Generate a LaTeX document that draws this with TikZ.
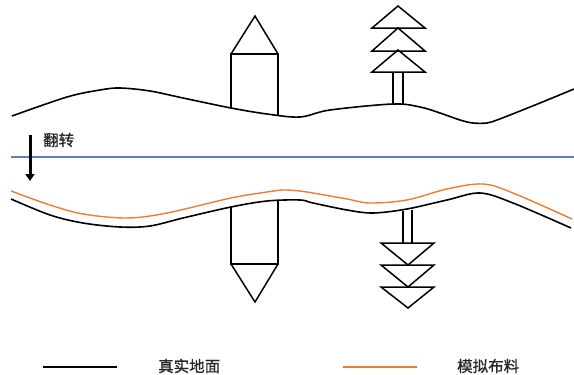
\documentclass[tikz,border=0pt]{standalone}
\usepackage{fontspec}
\newfontfamily\cjk[FakeBold=0.8]{Noto Sans CJK SC}
\usetikzlibrary{arrows.meta}
\definecolor{clothorange}{HTML}{ED7D31}
\definecolor{planeblue}{HTML}{5B7FC2}
\definecolor{labelgray}{HTML}{262626}
\begin{document}
\begin{tikzpicture}[x=1pt,y=-1pt,
  ground/.style={draw=black,line width=1.6pt,line join=round},
  cloth/.style={draw=clothorange,line width=1.4pt,line join=round},
  obj/.style={draw=black,line width=1.5pt,line join=miter},
  lbl/.style={font=\cjk\fontsize{15.5}{15.5}\selectfont,text=labelgray,inner sep=0pt}]
\useasboundingbox (0,0) rectangle (574,375);

% real ground
\draw[ground] plot[smooth,tension=0.55] coordinates {
  (12,116) (67,97) (100,90) (120,88) (150,91) (183,98) (231,108)
  (267,114) (300,117) (330,110) (393,104) (420,107) (440,113)
  (460,120) (473,123) (487,123) (497,120) (510,115) (540,103) (574,89)};

% house standing on the ground
\draw[obj] (231,108) -- (231,54) -- (278,54) -- (278,115);
\draw[obj] (231,54) -- (255,16) -- (278,54);

% tree standing on the ground
\draw[obj] (393,104) -- (393,72);
\draw[obj] (403,104) -- (403,72);
\foreach \t/\b in {6/28, 28/51, 50/72}
  \draw[obj] (398,\t) -- (425,\b) -- (372,\b) -- cycle;

% flip plane
\coordinate (pl) at (11,157);
\coordinate (pr) at (574,157);
\draw[planeblue,line width=1.1pt] (pl) -- (pr);

% flip arrow and its label
\coordinate (at) at (30,135);
\coordinate (ab) at (30,181);
\draw[line width=3pt,-{Triangle[length=7pt,width=9pt]}] (at) -- (ab);
\node[lbl,anchor=west] (flip) at (43,140) {翻转};

% flipped ground
\draw[ground] plot[smooth,tension=0.55] coordinates {
  (11,199) (50,215) (83,223) (120,227) (150,226) (183,218) (231,207)
  (267,201) (300,200) (313,203) (347,210) (373,213) (407,209)
  (447,200) (480,193) (513,203) (571,228)};

% simulated cloth
\draw[cloth] plot[smooth,tension=0.55] coordinates {
  (11,191) (50,205) (83,214) (127,218) (167,213) (231,198)
  (267,192) (283,190) (300,191) (313,193) (347,199) (370,203)
  (407,200) (447,189) (483,184) (513,193) (572,219)};

% flipped house
\draw[obj] (231,207) -- (231,264) -- (278,264) -- (278,200);
\draw[obj] (231,264) -- (255,302) -- (278,264);

% flipped tree
\draw[obj] (403,211) -- (403,243);
\draw[obj] (412,210) -- (412,243);
\foreach \t/\b in {243/265, 265/287, 287/308}
  \draw[obj] (381,\t) -- (434,\t) -- (408,\b) -- cycle;

% legend
\coordinate (l1a) at (43,367);
\coordinate (l1b) at (117,367);
\draw[line width=1.6pt] (l1a) -- (l1b);
\node[lbl,anchor=west] (leg1) at (158,366) {真实地面};
\coordinate (l2a) at (343,367);
\coordinate (l2b) at (417,367);
\draw[clothorange,line width=1.6pt] (l2a) -- (l2b);
\node[lbl,anchor=west] (leg2) at (457,366) {模拟布料};
\end{tikzpicture}
\end{document}
